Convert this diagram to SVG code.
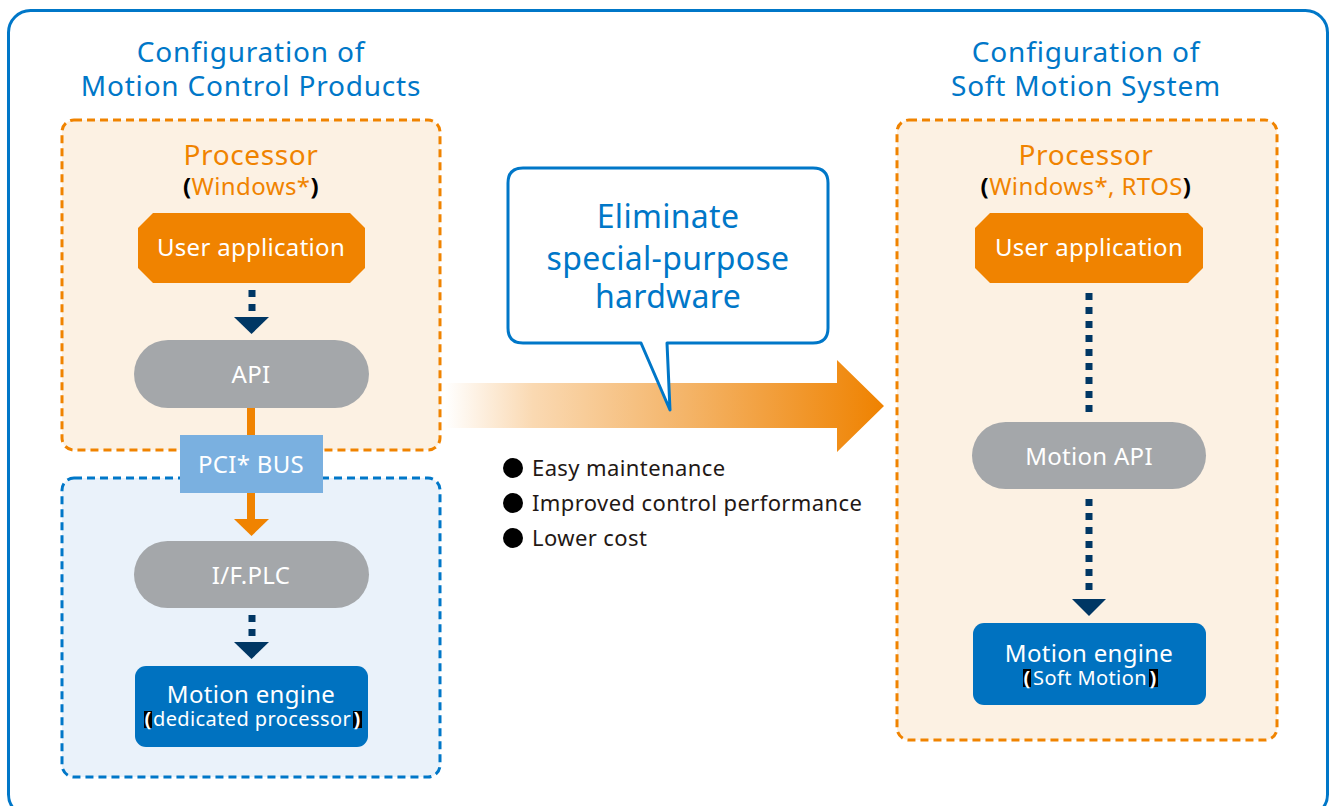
<svg xmlns="http://www.w3.org/2000/svg" width="1330" height="806" viewBox="0 0 1330 806">
  <defs>
    <style>
      .t { font-family: "Noto Sans", "Open Sans", "Liberation Sans", sans-serif; }
      .title { fill: #0077c8; font-size: 28px; letter-spacing: 0.8px; text-anchor: middle; }
      .proc { fill: #f08300; font-size: 28px; letter-spacing: 0.6px; text-anchor: middle; }
      .os { font-size: 24px; letter-spacing: 0.4px; }
      .br { fill: #000; font-weight: bold; }
      .node { fill: #fff; font-size: 24px; letter-spacing: 0.3px; text-anchor: middle; }
      .sub { font-size: 20px; letter-spacing: 0.4px; }
      .callout { fill: #0077c8; font-size: 32px; letter-spacing: 0.3px; text-anchor: middle; }
      .bullet { fill: #231815; font-size: 22px; letter-spacing: 0.4px; }
      .zone-or { fill: #fcf1e3; stroke: #f08300; stroke-width: 3; stroke-dasharray: 8 5; }
      .zone-bl { fill: #eaf2fa; stroke: #0077c8; stroke-width: 3; stroke-dasharray: 8 5; }
      .app { fill: #f08300; }
      .pill { fill: #a4a7aa; }
      .engine { fill: #0072c0; }
      .dots { stroke: #003764; stroke-width: 7; stroke-dasharray: 7 7; fill: none; }
      .head { fill: #003764; }
      .bus { stroke: #f08300; stroke-width: 8; fill: none; }
      .bushead { fill: #f08300; }
    </style>
    <linearGradient id="flow" x1="445" y1="0" x2="884" y2="0" gradientUnits="userSpaceOnUse">
      <stop offset="0" stop-color="#ffffff"/>
      <stop offset="0.2" stop-color="#fad9b2"/>
      <stop offset="0.55" stop-color="#f4b468"/>
      <stop offset="1" stop-color="#ef8200"/>
    </linearGradient>
  </defs>

  <!-- outer frame -->
  <rect x="8.5" y="10.5" width="1319" height="806" rx="22" fill="#fff" stroke="#0077c8" stroke-width="3"/>

  <!-- section titles -->
  <g id="titles">
    <text class="t title" x="251" y="62">Configuration of<tspan x="251" dy="34">Motion Control Products</tspan></text>
    <text class="t title" x="1086" y="62">Configuration of<tspan x="1086" dy="34">Soft Motion System</tspan></text>
  </g>

  <!-- zones -->
  <g id="zone-left-processor">
    <rect class="zone-or" x="62" y="120" width="378" height="330" rx="12"/>
    <text class="t proc" x="251" y="165">Processor<tspan class="os" x="251" dy="30"><tspan class="br">(</tspan>Windows*<tspan class="br">)</tspan></tspan></text>
  </g>
  <g id="zone-left-board">
    <rect class="zone-bl" x="62" y="478" width="378" height="299" rx="12"/>
  </g>
  <g id="zone-right-processor">
    <rect class="zone-or" x="897" y="120" width="380" height="620" rx="12"/>
    <text class="t proc" x="1086" y="165">Processor<tspan class="os" x="1086" dy="30"><tspan class="br">(</tspan>Windows*, RTOS<tspan class="br">)</tspan></tspan></text>
  </g>

  <!-- big transition arrow -->
  <g id="transition-arrow">
    <path d="M445 383 H837 V360 L884 406 L837 452 V428 H445 Z" fill="url(#flow)"/>
  </g>

  <!-- connectors -->
  <g id="connectors">
    <path class="dots" d="M252 290 V316"/>
    <path class="head" d="M234 317 H269 L251.5 334 Z"/>
    <path class="bus" d="M251 408 V436"/>
    <path class="bus" d="M251 492 V520"/>
    <path class="bushead" d="M234 519 H269 L251.5 536 Z"/>
    <path class="dots" d="M252 615 V641"/>
    <path class="head" d="M234 642 H269 L251.5 659 Z"/>
    <path class="dots" d="M1089 293 V416"/>
    <path class="dots" d="M1089 499 V596"/>
    <path class="head" d="M1072 599 H1106 L1089 616 Z"/>
  </g>

  <!-- left column nodes -->
  <g id="user-app-left">
    <path class="app" d="M153 213 H350 L365 228 V268 L350 283 H153 L138 268 V228 Z"/>
    <text class="t node" x="251" y="256">User application</text>
  </g>
  <g id="api-left">
    <rect class="pill" x="134" y="340" width="235" height="68" rx="34"/>
    <text class="t node" x="251" y="383">API</text>
  </g>
  <g id="pci-bus">
    <rect x="180" y="435" width="143" height="58" fill="#7ab0e0"/>
    <text class="t node" x="251" y="473">PCI* BUS</text>
  </g>
  <g id="if-plc">
    <rect class="pill" x="134" y="541" width="235" height="67" rx="33.5"/>
    <text class="t node" x="251" y="584">I/F.PLC</text>
  </g>
  <g id="engine-left">
    <rect class="engine" x="135" y="666" width="233" height="81" rx="11"/>
    <rect x="144" y="711" width="8" height="17" fill="#000"/>
    <rect x="353" y="711" width="9" height="17" fill="#000"/>
    <text class="t node" x="251" y="703">Motion engine<tspan class="sub" x="148" y="726" font-weight="bold">(</tspan><tspan class="sub" x="252" y="726">dedicated processor</tspan><tspan class="sub" x="357" y="726" font-weight="bold">)</tspan></text>
  </g>

  <!-- right column nodes -->
  <g id="user-app-right">
    <path class="app" d="M990 213 H1188 L1203 228 V268 L1188 283 H990 L975 268 V228 Z"/>
    <text class="t node" x="1089" y="256">User application</text>
  </g>
  <g id="motion-api">
    <rect class="pill" x="972" y="422" width="234" height="67" rx="33.5"/>
    <text class="t node" x="1089" y="465">Motion API</text>
  </g>
  <g id="engine-right">
    <rect class="engine" x="973" y="623" width="233" height="82" rx="11"/>
    <rect x="1023" y="669" width="8" height="18" fill="#000"/>
    <rect x="1149" y="669" width="9" height="18" fill="#000"/>
    <text class="t node" x="1089" y="662">Motion engine<tspan class="sub" x="1027" y="685" font-weight="bold">(</tspan><tspan class="sub" x="1090" y="685">Soft Motion</tspan><tspan class="sub" x="1153" y="685" font-weight="bold">)</tspan></text>
  </g>

  <!-- callout bubble -->
  <g id="callout">
    <path d="M523 168 H813 Q828 168 828 183 V328 Q828 343 813 343 H667 L670 410 L641 343 H523 Q508 343 508 328 V183 Q508 168 523 168 Z" fill="#fff" stroke="#0077c8" stroke-width="3" stroke-linejoin="round"/>
    <text class="t callout" x="668" y="228">Eliminate<tspan x="668" dy="42">special-purpose</tspan><tspan x="668" dy="38">hardware</tspan></text>
  </g>

  <!-- benefits list -->
  <g id="benefits">
    <circle cx="513" cy="468" r="10" fill="#000"/>
    <circle cx="513" cy="503" r="10" fill="#000"/>
    <circle cx="513" cy="538" r="10" fill="#000"/>
    <text class="t bullet" x="532" y="476">Easy maintenance<tspan x="532" dy="35">Improved control performance</tspan><tspan x="532" dy="35">Lower cost</tspan></text>
  </g>
</svg>
